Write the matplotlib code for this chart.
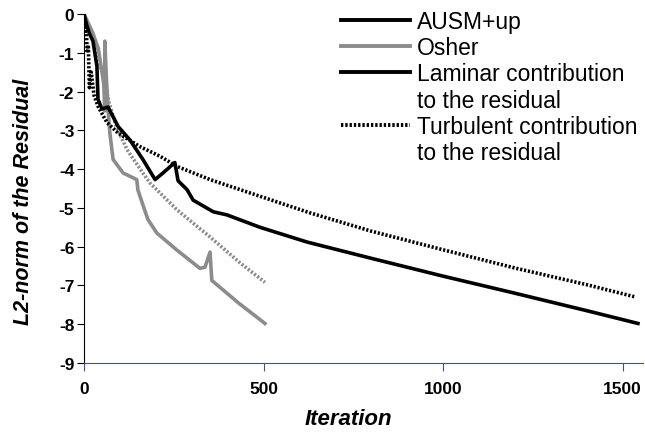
import numpy as np
import matplotlib
matplotlib.use("Agg")
import matplotlib.pyplot as plt
from matplotlib.lines import Line2D

plt.rcParams['font.family'] = ['Liberation Sans', 'DejaVu Sans']

# ---------------- data ----------------
ausm_lam_it = [0, 8, 15, 25, 36, 39, 50, 67, 95, 128, 164, 198, 220, 253, 262,
               287, 304, 360, 398, 490, 621, 800, 1000, 1200, 1400, 1543]
ausm_lam_res = [0.0, -0.3, -0.5, -0.7, -1.35, -2.2, -2.45, -2.4, -2.9, -3.25, -3.75,
                -4.27, -4.1, -3.83, -4.3, -4.53, -4.8, -5.1, -5.18, -5.5, -5.88,
                -6.3, -6.76, -7.2, -7.65, -7.98]

ausm_turb_it = [0, 3, 6, 9, 12, 15, 20, 28, 40, 52, 64, 95, 156, 212, 259, 351,
                490, 630, 800, 1000, 1200, 1400, 1537]
ausm_turb_res = [0.0, -0.5, -0.3, -1.0, -0.8, -1.9, -1.5, -2.1, -2.4, -2.6, -2.8,
                 -3.07, -3.42, -3.67, -3.93, -4.27, -4.7, -5.13, -5.6, -6.08,
                 -6.55, -6.98, -7.3]

osher_lam_it = [0, 10, 25, 40, 55, 58, 58, 62, 67, 72, 81, 109, 147, 150, 156,
                178, 203, 259, 323, 337, 351, 356, 430, 504]
osher_lam_res = [0.0, -0.2, -0.5, -0.9, -1.8, -2.5, -0.7, -1.6, -2.46, -3.07, -3.75,
                 -4.1, -4.27, -4.53, -4.7, -5.3, -5.65, -6.09, -6.56, -6.53, -6.14,
                 -6.87, -7.45, -7.98]

osher_turb_it = [0, 10, 25, 40, 55, 70, 90, 120, 164, 184, 259, 351, 435, 504]
osher_turb_res = [0.0, -0.3, -0.6, -1.2, -1.6, -2.3, -2.9, -3.5, -4.1, -4.36,
                  -5.05, -5.75, -6.42, -6.92]

x_ticks = [0, 500, 1000, 1500]
y_ticks = list(range(-9, 1))

BLACK = "#000000"
GRAY = "#8c8c8c"
AXIS_BLUE = "#4848a8"

# ---------------- figure ----------------
fig = plt.figure(figsize=(6.45, 4.35), dpi=100)
ax = fig.add_axes([84 / 645, 71 / 435, 559 / 645, 349 / 435])

dots = (0, (0.6, 0.5))
ax.plot(osher_turb_it, osher_turb_res, color=GRAY, lw=2.6, ls=dots)
ax.plot(osher_lam_it, osher_lam_res, color=GRAY, lw=2.6)
ax.plot(ausm_turb_it, ausm_turb_res, color=BLACK, lw=2.6, ls=dots)
ax.plot(ausm_lam_it, ausm_lam_res, color=BLACK, lw=2.6)

ax.set_xlim(0, 1557)
ax.set_ylim(-9, 0)
ax.set_xticks(x_ticks)
ax.set_yticks(y_ticks)
ax.set_xticklabels([str(v) for v in x_ticks], fontweight="bold", fontsize=12.5)
ax.set_yticklabels([str(v) for v in y_ticks], fontweight="bold", fontsize=12.5)

for s in ["top", "right"]:
    ax.spines[s].set_visible(False)
ax.spines["bottom"].set_color(AXIS_BLUE)
ax.spines["left"].set_color(BLACK)
ax.tick_params(axis="x", direction="out", length=6, color=AXIS_BLUE, pad=7)
ax.tick_params(axis="y", direction="out", length=5, color=BLACK, pad=2)

ax.set_xlabel("Iteration", fontsize=16, fontweight="bold", style="italic")
ax.xaxis.set_label_coords((348 - 84) / 559, -45 / 349)
ax.set_ylabel("L2-norm of the Residual", fontsize=15.5, fontweight="bold",
              style="italic")
ax.yaxis.set_label_coords(-50 / 559, 0.465)

# legend (two-line labels: second line gets an empty handle)
blank = Line2D([], [], color="none")
handles = [Line2D([], [], color=BLACK, lw=2.8),
           Line2D([], [], color=GRAY, lw=2.8),
           Line2D([], [], color=BLACK, lw=2.8),
           blank,
           Line2D([], [], color=BLACK, lw=2.8, ls=dots),
           blank]
labels = ["AUSM+up", "Osher", "Laminar contribution", "to the residual",
          "Turbulent contribution", "to the residual"]
fig.legend(handles, labels, loc="upper left", bbox_to_anchor=(341 / 645, 1 - 11 / 435),
           frameon=False, fontsize=16.5, handlelength=3.0, handletextpad=0.3,
           labelspacing=0.14, borderpad=0, borderaxespad=0)

fig.savefig("out.png", dpi=100)
